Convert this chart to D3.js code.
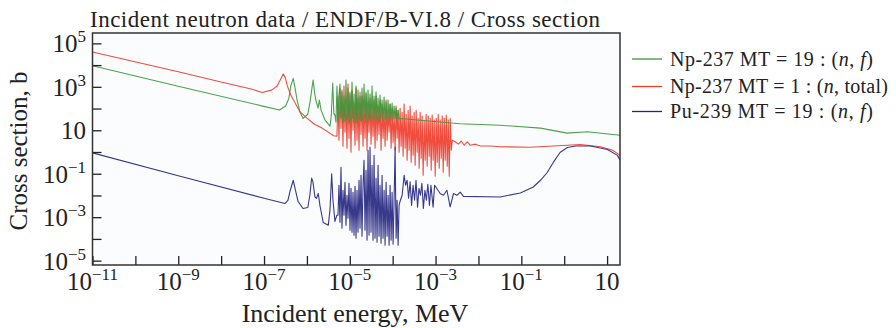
<!DOCTYPE html>
<html><head><meta charset="utf-8">
<script src="https://cdn.jsdelivr.net/npm/d3@7"></script>
<style>
body{margin:0;background:#fff}
svg{display:block}
text{font-family:"Liberation Serif","Times New Roman",serif;fill:#222}
</style>
</head><body>
<svg id="chart" width="896" height="328"></svg>
<script>
// ---------------- data ----------------
// energies (MeV) sampled across the resonance band
const resonanceEnergy = [4.51e-6,4.76e-6,5.02e-6,5.30e-6,5.59e-6,5.90e-6,6.23e-6,6.57e-6,6.94e-6,7.32e-6,
7.72e-6,8.15e-6,8.60e-6,9.08e-6,9.58e-6,1.011e-5,1.067e-5,1.126e-5,1.188e-5,1.254e-5,
1.323e-5,1.396e-5,1.473e-5,1.555e-5,1.641e-5,1.731e-5,1.827e-5,1.928e-5,2.035e-5,2.147e-5,
2.266e-5,2.391e-5,2.523e-5,2.663e-5,2.81e-5,2.965e-5,3.129e-5,3.302e-5,3.485e-5,3.677e-5,
3.881e-5,4.095e-5,4.322e-5,4.561e-5,4.813e-5,5.079e-5,5.36e-5,5.656e-5,5.969e-5,6.299e-5,
6.647e-5,7.015e-5,7.403e-5,7.812e-5,8.244e-5,8.7e-5,9.181e-5,9.689e-5,1.0225e-4,1.079e-4,
1.139e-4,1.202e-4,1.268e-4,1.338e-4,1.412e-4,1.49e-4,1.573e-4,1.66e-4,1.751e-4,1.848e-4,
1.95e-4,2.058e-4,2.172e-4,2.292e-4,2.419e-4,2.553e-4,2.694e-4,2.843e-4,3.0e-4,3.166e-4,
3.341e-4,3.526e-4,3.721e-4,3.927e-4,4.144e-4,4.373e-4,4.615e-4,4.87e-4,5.139e-4,5.424e-4,
5.724e-4,6.04e-4,6.374e-4,6.727e-4,7.099e-4,7.491e-4,7.906e-4,8.343e-4,8.804e-4,9.291e-4,
9.805e-4,1.0347e-3,1.092e-3,1.152e-3,1.216e-3,1.283e-3,1.354e-3,1.429e-3,1.508e-3,1.592e-3,
1.68e-3,1.773e-3,1.871e-3,1.974e-3,2.083e-3,2.198e-3,2.32e-3,2.448e-3];

// Np-237 MT=19 (green)
const greenLowE = [1e-11,1e-9,1e-7,2.3e-7,3.2e-7,3.8e-7,4.2e-7,4.8e-7,5.2e-7,5.9e-7,6.9e-7,8.2e-7,1.05e-6,1.2e-6,1.31e-6,1.4e-6,1.5e-6,1.62e-6,1.82e-6,1.95e-6,2.14e-6,2.64e-6,3.46e-6,3.7e-6,4.0e-6,4.25e-6];
const greenLowXS = [9300,1070,126,85,130,300,1070,2450,1070,245,68,35,55,245,870,2040,575,245,105,245,85,29.5,15.5,50,1480,60];
const greenResXS = [50,23.6,1077,29.2,415,1332,36,705,23.6,373,26.3,2037,32.5,871,21.2,570,29.2,1647,36,461,23.6,1077,21.2,705,32.5,373,26.3,871,29.2,1332,36,570,23.6,705,32.5,461,26.3,1077,36,373,29.2,570,32.5,302,26.3,415,36,244,29.2,335,32.5,197,26.3,244,36,160,29.2,177,32.5,129,36,104,29.2,84,32.5,35];
const greenHighE = [3.7e-3,0.032,0.28,1.17,3.5,12,20];
const greenHighXS = [20,17,12.6,7.4,8.5,6.6,5.9];

// Np-237 MT=1 (red)
const redLowE = [1e-11,1e-9,1e-8,5e-8,9e-8,1.5e-7,2.0e-7,2.5e-7,2.8e-7,3.1e-7,3.5e-7,4.2e-7,5.5e-7,7e-7,1e-6,1.5e-6,2.2e-6,3.2e-6,4.2e-6];
const redLowXS = [40000,4900,1660,800,550,705,1070,2500,3900,2800,1100,420,158,68,36,19,13,8,5.6];
const redResXS = [5.35,373,3.5,871,12.5,570,1.85,1077,8.2,244,1.5,1332,4.33,461,0.98,705,10.1,160,2.06,871,3.5,302,1.21,570,6.6,373,1.85,244,4.33,461,1.21,197,8.2,302,2.29,160,5.35,244,1.5,373,3.5,129,6.6,244,1.21,160,4.33,104,1.85,244,3.5,84,8.2,160,1.5,104,2.83,68,1.21,129,4.33,84,0.98,104,1.85,68,0.64,160,1.5,55,0.42,84,1.21,129,0.34,45,0.71,68,0.247,84,0.98,36,0.18,68,0.519,45,0.0856,29.2,0.42,55,0.222,45,0.64,36,0.145,50,0.42,29.2,0.077,36,0.34,55,0.18,29.2,0.519,45,0.118,36,0.42,50,0.222,29.2,0.077,36,1.21,3.5];
const redHighE = [2.87e-3,3.4e-3,3.96e-3,4.66e-3,5.47e-3,6.4e-3,8.4e-3,0.011,0.019,0.032,0.16,1.17,2.4,7.1,13.5,20];
const redHighXS = [2.95,2.3,3.2,2.05,2.9,2.05,2.3,1.9,1.9,1.74,1.66,2.05,2.2,1.74,1.2,0.7];

// Pu-239 MT=19 (blue)
const blueLowE = [1e-11,1e-9,1e-7,3.1e-7,3.6e-7,4.1e-7,4.8e-7,5.4e-7,6.2e-7,8.1e-7,1.05e-6,1.17e-6,1.29e-6,1.38e-6,1.54e-6,1.67e-6,1.84e-6,2.01e-6,2.4e-6,3.15e-6,3.45e-6,3.78e-6,4.05e-6,4.5e-6,5.0e-6];
const blueLowXS = [0.91,0.081,0.0074,0.0043,0.006,0.0174,0.05,0.0174,0.0054,0.0025,0.0028,0.0102,0.063,0.042,0.0085,0.0074,0.0123,0.0035,0.00057,0.00043,0.0021,0.1,0.006,0.00064,0.00123];
const blueResXS = [0.00123,0.0297,0.000579,0.2,0.000308,0.0175,0.00123,0.0408,0.000421,0.0102,0.00089,0.0367,0.000249,0.0216,0.000202,0.0141,0.000147,0.0267,0.000107,0.0175,0.000202,0.0504,0.000308,0.0856,0.000132,0.0297,0.42,0.000249,0.145,0.0000862,1.21,0.000147,1.67,0.000202,0.247,0.0000862,0.71,0.000107,0.0622,0.0000697,0.247,0.000132,0.0297,0.0000627,0.0856,0.000107,0.0175,0.0000507,0.0408,0.000132,0.0102,0.0000507,0.0297,0.0000862,0.0141,0.0000564,0.00605,1.67,0.000107,0.00605,0.0000507,0.00357,0.00544];
const blueHighE = [1.66e-4,1.85e-4,2.0e-4,2.17e-4,2.35e-4,2.55e-4,2.76e-4,2.99e-4,3.24e-4,3.5e-4,3.8e-4,4.1e-4,4.45e-4,4.8e-4,5.2e-4,5.65e-4,6.1e-4,6.6e-4,7.2e-4,7.8e-4,8.75e-4,9.5e-4,1.07e-3,1.28e-3,1.53e-3,1.84e-3,2.19e-3,2.62e-3,3.15e-3,3.76e-3,4.47e-3,0.032,0.095,0.19,0.28,0.405,0.56,0.81,1.19,1.83,4.1,10.2,17.4,20];
const blueHighXS = [0.0102,0.085,0.0295,0.05,0.0074,0.042,0.0035,0.0295,0.006,0.05,0.0029,0.021,0.0102,0.036,0.0025,0.0174,0.006,0.033,0.0035,0.0295,0.0029,0.0295,0.021,0.0123,0.0102,0.0174,0.003,0.0123,0.0102,0.0143,0.0091,0.0085,0.013,0.0245,0.05,0.117,0.34,0.98,1.6,1.9,1.9,1.3,0.7,0.42];

const xTickValues = [1e-11,1e-10,1e-9,1e-8,1e-7,1e-6,1e-5,1e-4,1e-3,1e-2,1e-1,1,10];
const xLabelExponents = [-11,-9,-7,-5,-3,-1,1];
const yTickValues = [1e5,1e4,1e3,1e2,10,1,1e-1,1e-2,1e-3,1e-4,1e-5];
const yLabelExponents = [5,3,1,-1,-3,-5];

const seriesNames = ["Np-237 MT = 19 : (n, f)","Np-237 MT = 1 : (n, total)","Pu-239 MT = 19 : (n, f)"];
const seriesColors = ["#3a983a","#ee3a2a","#22227f"];
const titleText = "Incident neutron data / ENDF/B-VI.8 / Cross section";
const xAxisLabel = "Incident energy, MeV";
const yAxisLabel = "Cross section, b";

// ---------------- drawing ----------------
const svg = d3.select("#chart");
const M = {l:92.5, r:620, t:33, b:265};
const x = d3.scaleLog().domain([1e-11, 20]).range([M.l, M.r]);
const y = d3.scaleLog().domain([6.3e-6, 3e5]).range([M.b, M.t]);

svg.append("rect").attr("x",M.l).attr("y",M.t).attr("width",M.r-M.l).attr("height",M.b-M.t)
  .attr("fill","#fbfcfd");
svg.append("defs").append("clipPath").attr("id","clip").append("rect")
  .attr("x",M.l).attr("y",M.t).attr("width",M.r-M.l).attr("height",M.b-M.t);

const greenPts = d3.zip(greenLowE, greenLowXS)
  .concat(d3.zip(resonanceEnergy.slice(0, 66), greenResXS), d3.zip(greenHighE, greenHighXS));
const redPts = d3.zip(redLowE, redLowXS)
  .concat(d3.zip(resonanceEnergy.slice(2, 118), redResXS), d3.zip(redHighE, redHighXS));
const bluePts = d3.zip(blueLowE, blueLowXS)
  .concat(d3.zip(resonanceEnergy.slice(3, 66), blueResXS), d3.zip(blueHighE, blueHighXS));

const line = d3.line().x(d=>x(d[0])).y(d=>y(d[1]));
const plot = svg.append("g").attr("clip-path","url(#clip)");
[[redPts, seriesColors[1]], [greenPts, seriesColors[0]], [bluePts, seriesColors[2]]].forEach(([pts, c])=>{
  plot.append("path").datum(pts).attr("d", line).attr("fill","none").attr("stroke", c)
    .attr("stroke-width",1.1).attr("stroke-linejoin","round").attr("stroke-opacity",0.9);
});

const xAxis = svg.append("g").attr("transform",`translate(0,${M.b})`)
  .call(d3.axisBottom(x).tickValues(xTickValues).tickSizeInner(-9).tickSizeOuter(0).tickFormat(()=>""));
const yAxis = svg.append("g").attr("transform",`translate(${M.l},0)`)
  .call(d3.axisLeft(y).tickValues(yTickValues).tickSizeInner(-9).tickSizeOuter(0).tickFormat(()=>""));
[xAxis,yAxis].forEach(a=>{
  a.select(".domain").remove();
  a.selectAll(".tick line").attr("stroke","#222").attr("stroke-width",1.3);
});

svg.append("rect").attr("x",M.l).attr("y",M.t).attr("width",M.r-M.l).attr("height",M.b-M.t)
  .attr("fill","none").attr("stroke","#333").attr("stroke-width",1.5);

function powLabel(sel, exp){
  sel.append("tspan").text("10");
  if (exp !== 1) sel.append("tspan").attr("dy",-10).attr("font-size",17).text(String(exp).replace("-","\u2212"));
}
xLabelExponents.forEach(ex=>{
  const t = svg.append("text").attr("x", x(Math.pow(10,ex))).attr("y", 290)
    .attr("text-anchor","middle").attr("font-size",25);
  powLabel(t, ex);
});
yLabelExponents.forEach(ex=>{
  const t = svg.append("text").attr("x", 86).attr("y", y(Math.pow(10,ex)) + 9)
    .attr("text-anchor","end").attr("font-size",25);
  powLabel(t, ex);
});

svg.append("text").attr("x",90).attr("y",27).attr("font-size",23)
  .attr("textLength",510).attr("lengthAdjust","spacing").text(titleText);
svg.append("text").attr("x",355).attr("y",322).attr("text-anchor","middle").attr("font-size",26)
  .text(xAxisLabel);
svg.append("text").attr("transform","translate(27,151) rotate(-90)").attr("text-anchor","middle")
  .attr("font-size",25).text(yAxisLabel);

const legRows = [59, 86.5, 111.5];
const legWidths = [203, 218, 203];
seriesNames.forEach((name,i)=>{
  const yy = legRows[i];
  svg.append("line").attr("x1",632).attr("x2",662).attr("y1",yy).attr("y2",yy)
    .attr("stroke",seriesColors[i]).attr("stroke-width",1.3);
  const t = svg.append("text").attr("x",670).attr("y",yy+6.5).attr("font-size",20)
    .attr("textLength",legWidths[i]).attr("lengthAdjust","spacing");
  const m = name.match(/^(.*\()n, (.*)\)$/);
  t.append("tspan").text(m[1]);
  t.append("tspan").attr("font-style","italic").text("n");
  t.append("tspan").text(", ");
  if (m[2] === "f") t.append("tspan").attr("font-style","italic").text("f");
  else t.append("tspan").text(m[2]);
  t.append("tspan").text(")");
});
</script>
</body></html>
